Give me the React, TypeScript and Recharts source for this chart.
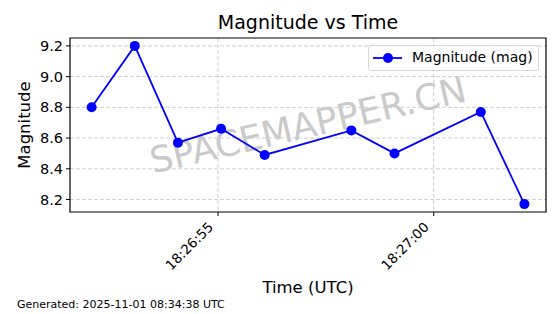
import React from 'react';
import { LineChart, Line, XAxis, YAxis, CartesianGrid, ReferenceArea } from 'recharts';

const obsTimes = [
  '18:26:52.07', '18:26:53.07', '18:26:54.07', '18:26:55.07', '18:26:56.08',
  '18:26:58.09', '18:26:59.09', '18:27:01.09', '18:27:02.10',
];
const magnitudes = [8.8, 9.2, 8.57, 8.66, 8.49, 8.65, 8.5, 8.77, 8.17];
const xTickLabels = ['18:26:55', '18:27:00'];
const yTicks = [8.2, 8.4, 8.6, 8.8, 9.0, 9.2];
const seriesName = 'Magnitude (mag)';

const toSec = (t: string) => {
  const [h, m, s] = t.split(':');
  return Number(h) * 3600 + Number(m) * 60 + Number(s);
};

const data = obsTimes.map((t, i) => ({ t: toSec(t), mag: magnitudes[i] }));
const xTicks = xTickLabels.map(toSec);

// matplotlib style 5% margins
const pad = (vals: number[]): [number, number] => {
  const lo = Math.min(...vals);
  const hi = Math.max(...vals);
  const m = (hi - lo) * 0.05;
  return [lo - m, hi + m];
};
const xDomain = pad(data.map(d => d.t));
const yDomain = pad(magnitudes);

const fmtTime = (v: number) => {
  const s = Math.round(v);
  const hh = Math.floor(s / 3600);
  const mm = Math.floor((s % 3600) / 60);
  const ss = s % 60;
  return [hh, mm, ss].map(n => String(n).padStart(2, '0')).join(':');
};

const FONT = '"DejaVu Sans", sans-serif';
const BLUE = '#0000ff';

const XTick = (props: any) => {
  const { x, y, payload } = props;
  return (
    <g transform={`translate(${x - 4},${y + 10})`}>
      <text transform="rotate(-45)" textAnchor="end" fontSize={13.5} fill="#000" fontFamily={FONT}>
        {fmtTime(payload.value)}
      </text>
    </g>
  );
};

const LegendBox = () => (
  <div
    style={{
      position: 'absolute', left: 368, top: 45,
      width: 171, height: 26, border: '1px solid #d6d6d6', borderRadius: 3,
      background: 'rgba(255,255,255,0.8)', boxSizing: 'border-box',
    }}
  >
    <svg width={40} height={24} style={{ position: 'absolute', left: 0, top: 0 }}>
      <line x1={4} x2={33} y1={12} y2={12} stroke={BLUE} strokeWidth={1.8} />
      <circle cx={19} cy={12} r={5} fill={BLUE} />
    </svg>
    <span style={{ position: 'absolute', left: 43, top: 3, fontSize: 14, lineHeight: '17px', fontFamily: FONT, whiteSpace: 'nowrap' }}>
      {seriesName}
    </span>
  </div>
);

export default function App() {
  return (
    <div style={{ position: 'absolute', left: 0, top: 0, width: 560, height: 314, background: '#fff', fontFamily: FONT, overflow: 'hidden' }}>
      <div
        style={{
          position: 'absolute', left: 308, top: 125, transform: 'translate(-50%,-50%) rotate(-13deg)',
          fontSize: 36, color: '#cacaca', whiteSpace: 'nowrap', fontFamily: FONT,
        }}
      >
        SPACEMAPPER.CN
      </div>
      <div style={{ position: 'absolute', left: 0, top: 0 }}>
        <LineChart width={560} height={314} data={data} margin={{ top: 38, right: 14, left: 10, bottom: 0 }}>
          <CartesianGrid stroke="#cfcfcf" strokeDasharray="4 2" horizontalValues={yTicks} verticalValues={xTicks} />
          <XAxis
            dataKey="t" type="number" domain={xDomain} allowDataOverflow ticks={xTicks}
            height={102} tick={<XTick />} tickSize={4} tickMargin={2}
            axisLine={false} tickLine={{ stroke: '#000' }}
          />
          <YAxis
            type="number" domain={yDomain} allowDataOverflow ticks={yTicks} width={60}
            tickFormatter={(v: number) => v.toFixed(1)} tickSize={4} tickMargin={3}
            axisLine={false} tickLine={{ stroke: '#000' }}
            tick={{ fill: '#000', fontSize: 14.5, fontFamily: FONT }}
          />
          <ReferenceArea x1={xDomain[0]} x2={xDomain[1]} y1={yDomain[0]} y2={yDomain[1]} fill="none" fillOpacity={0} stroke="#000" strokeWidth={1.2} ifOverflow="visible" />
          <Line
            dataKey="mag" name={seriesName} type="linear" stroke={BLUE} strokeWidth={1.8}
            dot={{ r: 5, fill: BLUE, stroke: BLUE, strokeWidth: 0 }} activeDot={false}
            isAnimationActive={false}
          />
        </LineChart>
      </div>
      <LegendBox />
      <div style={{ position: 'absolute', left: 0, width: 616, top: 11, textAlign: 'center', fontSize: 19, lineHeight: '22px' }}>
        Magnitude vs Time
      </div>
      <div style={{ position: 'absolute', left: 0, width: 616, top: 278, textAlign: 'center', fontSize: 16.5, lineHeight: '20px' }}>
        Time (UTC)
      </div>
      <div style={{ position: 'absolute', left: 24, top: 125, transform: 'translate(-50%,-50%) rotate(-90deg)', fontSize: 16.5, whiteSpace: 'nowrap' }}>
        Magnitude
      </div>
      <div style={{ position: 'absolute', left: 17, top: 298, fontSize: 11, lineHeight: '13px', whiteSpace: 'nowrap' }}>
        Generated: 2025-11-01 08:34:38 UTC
      </div>
    </div>
  );
}
